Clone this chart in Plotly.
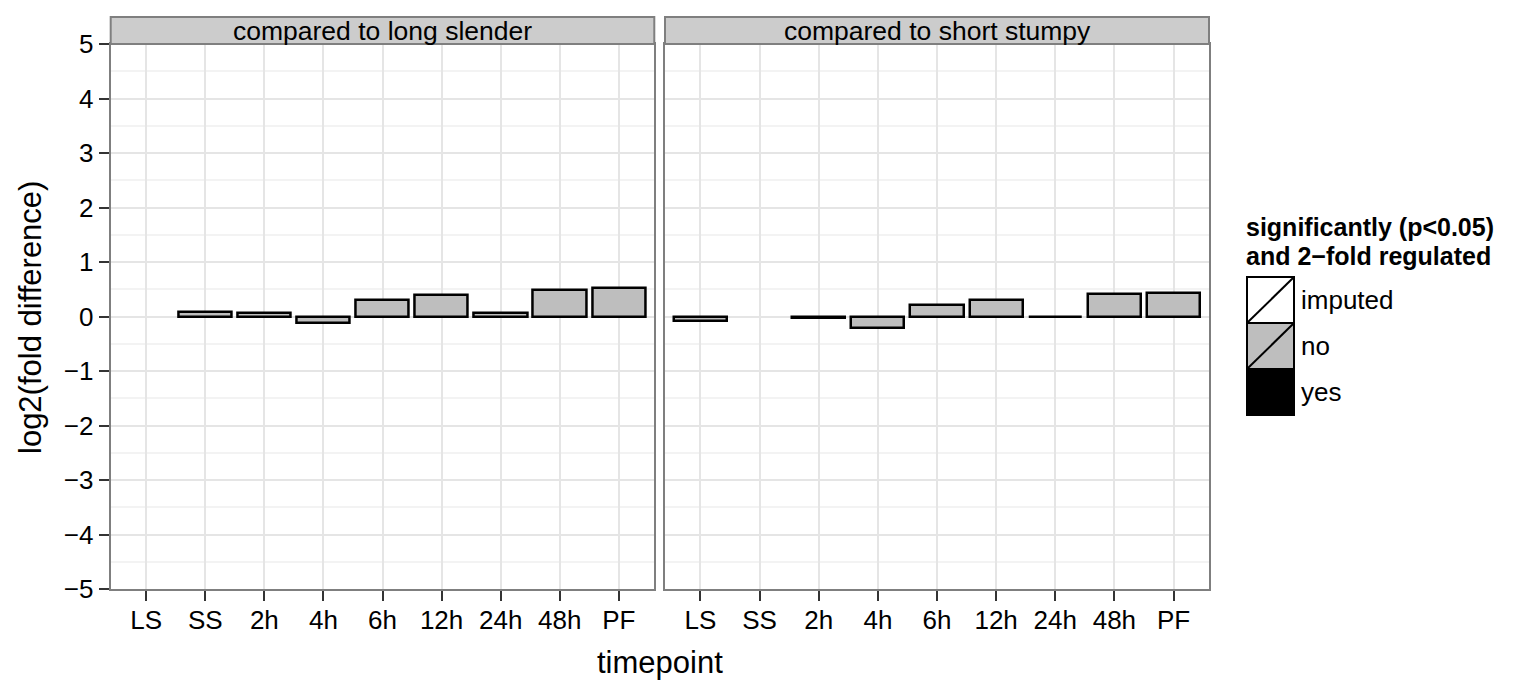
import plotly.graph_objects as go

W, H = 1535, 685

categories = ["LS", "SS", "2h", "4h", "6h", "12h", "24h", "48h", "PF"]
panel_titles = ["compared to long slender", "compared to short stumpy"]
vs_long_slender = [None, 0.08, 0.06, -0.11, 0.31, 0.40, 0.06, 0.49, 0.52]
vs_short_stumpy = [-0.09, None, -0.02, -0.21, 0.22, 0.31, -0.01, 0.41, 0.43]
status_long_slender = ["no"] * 9
status_short_stumpy = ["no"] * 9
legend_levels = ["imputed", "no", "yes"]
legend_colors = {"imputed": "#FFFFFF", "no": "#BEBEBE", "yes": "#000000"}
y_ticks = [-5, -4, -3, -2, -1, 0, 1, 2, 3, 4, 5]

FONT = "Liberation Sans, Arial, Helvetica, sans-serif"


def px(x):
    return x / W


def py(y):
    return 1 - y / H


panel_px = [(110.7, 654.3), (665.0, 1209.0)]
top_px, bot_px = 44.0, 589.0
strip_top = 17.0

fig = go.Figure()

series = [vs_long_slender, vs_short_stumpy]
statuses = [status_long_slender, status_short_stumpy]
for i, (vals, sts) in enumerate(zip(series, statuses)):
    xa = "x" if i == 0 else "x2"
    ya = "y" if i == 0 else "y2"
    for lev in legend_levels:
        xs = [c for c, v, s in zip(categories, vals, sts) if s == lev and v is not None]
        ys = [v for c, v, s in zip(categories, vals, sts) if s == lev and v is not None]
        if not xs:
            continue
        fig.add_trace(go.Bar(
            x=xs, y=ys, xaxis=xa, yaxis=ya, width=0.9,
            marker=dict(color=legend_colors[lev], line=dict(color="#000000", width=2.5)),
            showlegend=False, name=lev,
        ))

axis_common = dict(
    showline=True, linecolor="#7F7F7F", linewidth=2, mirror=True,
    zeroline=False, tickfont=dict(family=FONT, size=26, color="#000000"),
    tickcolor="#333333", ticklen=10, tickwidth=2, automargin=False,
)

for i in range(2):
    sfx = "" if i == 0 else "2"
    x0, x1 = panel_px[i]
    fig.layout["xaxis" + sfx] = dict(
        axis_common, domain=[px(x0), px(x1)], type="category",
        categoryorder="array", categoryarray=categories,
        range=[-0.6, 8.6], ticks="outside", showgrid=True,
        gridcolor="#E5E5E5", gridwidth=1.5, anchor="y" + sfx,
        tickmode="array", tickvals=categories, ticktext=categories,
        ticklabelstandoff=-3,
    )
    fig.layout["yaxis" + sfx] = dict(
        axis_common, domain=[py(bot_px), py(top_px)], range=[-5, 5],
        tickvals=y_ticks, ticktext=[("\u2212" + str(-t)) if t < 0 else str(t) for t in y_ticks],
        ticks="outside" if i == 0 else "", showticklabels=(i == 0),
        showgrid=True, gridcolor="#E5E5E5", gridwidth=1.5,
        minor=dict(tickvals=[t + 0.5 for t in y_ticks[:-1]], showgrid=True,
                   gridcolor="#F3F3F3", gridwidth=1.5, ticks=""),
        anchor="x" + sfx,
    )

shapes = []
annotations = []
for i in range(2):
    x0, x1 = panel_px[i]
    shapes.append(dict(type="rect", xref="paper", yref="paper",
                       x0=px(x0), x1=px(x1), y0=py(top_px), y1=py(strip_top),
                       fillcolor="#CCCCCC", line=dict(color="#7F7F7F", width=2), layer="above"))
    annotations.append(dict(text=panel_titles[i], xref="paper", yref="paper",
                            x=px((x0 + x1) / 2), y=py((top_px + strip_top) / 2),
                            xanchor="center", yanchor="middle", showarrow=False,
                            font=dict(family=FONT, size=26.5, color="#000000")))

# axis titles
annotations.append(dict(text="timepoint", xref="paper", yref="paper",
                        x=px((panel_px[0][0] + panel_px[1][1]) / 2), y=py(662),
                        xanchor="center", yanchor="middle", showarrow=False,
                        font=dict(family=FONT, size=31, color="#000000")))
annotations.append(dict(text="log2(fold difference)", xref="paper", yref="paper",
                        x=px(30), y=py(318), textangle=-90,
                        xanchor="center", yanchor="middle", showarrow=False,
                        font=dict(family=FONT, size=31, color="#000000")))

# legend (drawn manually)
annotations.append(dict(text="<b>significantly (p<0.05)</b>", xref="paper", yref="paper",
                        x=px(1245), y=py(227), xanchor="left", yanchor="middle", showarrow=False,
                        borderpad=0, font=dict(family=FONT, size=25, color="#000000")))
annotations.append(dict(text="<b>and 2\u2212fold regulated</b>", xref="paper", yref="paper",
                        x=px(1245), y=py(256), xanchor="left", yanchor="middle", showarrow=False,
                        borderpad=0, font=dict(family=FONT, size=25, color="#000000")))
kx0, kx1 = 1247.0, 1294.0
ky = [277.0, 323.0, 369.0, 415.0]
for j, lev in enumerate(legend_levels):
    y0, y1 = ky[j], ky[j + 1]
    shapes.append(dict(type="rect", xref="paper", yref="paper",
                       x0=px(kx0), x1=px(kx1), y0=py(y1), y1=py(y0),
                       fillcolor=legend_colors[lev], line=dict(color="#000000", width=2)))
    if lev != "yes":
        shapes.append(dict(type="line", xref="paper", yref="paper",
                           x0=px(kx0 + 1), x1=px(kx1 - 1), y0=py(y1 - 1), y1=py(y0 + 1),
                           line=dict(color="#000000", width=2)))
    annotations.append(dict(text=lev, xref="paper", yref="paper",
                            x=px(1299), y=py((y0 + y1) / 2), xanchor="left", yanchor="middle",
                            showarrow=False, font=dict(family=FONT, size=26, color="#000000")))

fig.update_layout(
    width=W, height=H, margin=dict(l=0, r=0, t=0, b=0, autoexpand=False),
    paper_bgcolor="#FFFFFF", plot_bgcolor="#FFFFFF",
    shapes=shapes, annotations=annotations, showlegend=False,
    barmode="overlay", bargap=0,
)

fig.write_html("out.html", config={"displayModeBar": False},
               post_script="document.body.style.margin='0';")
